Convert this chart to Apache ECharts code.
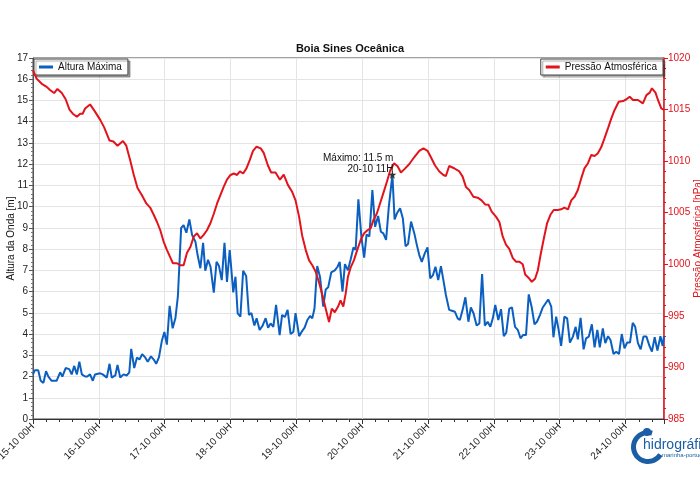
<!DOCTYPE html>
<html>
<head>
<meta charset="utf-8">
<script src="https://cdn.jsdelivr.net/npm/echarts@6/dist/echarts.min.js"></script>
<style>html,body{margin:0;padding:0;background:#fff;}#c{width:700px;height:500px;}</style>
</head>
<body>
<div id="c"></div>
<script>
const chartTitle = 'Boia Sines Oceânica';
const waveName = 'Altura Máxima';
const pressName = 'Pressão Atmosférica';
const xTickLabels = ['15-10 00H','16-10 00H','17-10 00H','18-10 00H','19-10 00H','20-10 00H','21-10 00H','22-10 00H','23-10 00H','24-10 00H'];
const peakHour = 131;
const peakValue = 11.5;
const peakLabel = '20-10 11H';

// [hours since 15-10 00H, max wave height m]
const waveData = [
[0,2.1],[0.7,2.3],[1.9,2.3],[2.8,1.8],[3.8,1.7],[4.75,2.25],[5.6,2.0],[6.8,1.8],[8.6,1.8],[9.9,2.2],[10.7,2.0],[11.9,2.4],[13.2,2.35],[14.1,2.1],[15,2.5],[16,2.1],[16.9,2.7],[17.8,2.1],[19,2.0],[19.8,2.0],[20.8,2.1],[21.8,1.8],[22.6,2.1],[24.5,2.15],[25.4,2.1],[26.9,1.95],[27.9,2.6],[28.7,1.95],[30,2.05],[30.8,2.55],[31.8,1.95],[33,2.1],[34.2,2.05],[35.1,2.2],[35.8,3.3],[36.9,2.4],[37.9,2.9],[38.8,2.8],[39.8,3.05],[40.9,2.9],[41.8,2.7],[43,2.95],[44,2.8],[44.9,2.6],[45.9,2.9],[47,3.7],[47.9,4.1],[48.8,3.5],[49.8,5.33],[50.9,4.27],[51.9,4.74],[52.8,5.76],[54,9.0],[54.9,9.13],[55.9,8.77],[57,9.4],[58,8.66],[59.2,8.35],[60,7.72],[61,7.1],[62,8.3],[62.8,6.98],[63.8,7.5],[64.7,7.17],[65.9,5.95],[66.9,7.4],[67.8,7.2],[68.8,6.54],[69.8,8.3],[70.7,6.46],[71.7,7.96],
[73,5.96],[73.8,6.7],[74.6,4.97],[75.6,4.82],[76.6,6.98],[77.7,6.73],[78.7,4.9],[79.6,4.99],[80.7,4.4],[81.5,4.74],[82.6,4.19],[83.7,4.4],[84.8,4.75],[85.7,4.3],[86.6,4.5],[87.6,4.34],[88.6,5.37],[89.9,3.95],[90.8,4.9],[91.8,4.8],[92.8,5.14],[93.9,4.0],[94.9,4.1],[95.7,4.99],[97,3.9],[97.9,4.1],[99,4.3],[100,4.66],[101,4.85],[101.8,4.74],[102.6,5.2],[103.6,7.2],[104.6,6.7],[105.8,5.29],[106.7,6.1],[107.6,6.2],[108.7,6.9],[110,7.0],[111,7.17],[111.8,7.4],[112.8,6.0],[113.7,7.29],[114.8,7.0],[115.8,7.52],[116.8,8.08],[117.6,7.96],[118.6,10.34],[119.7,8.58],[120.7,7.6],[121.6,8.69],[122.6,8.6],[123.7,10.78],[124.7,9.05],[125.8,9.56],[126.8,8.82],[127.7,8.74],[128.7,8.43],[129.7,10.0],[131,11.5],[131.8,9.4],[132.7,9.7],[133.8,9.92],[134.8,9.45],[135.8,8.14],[136.7,8.24],[137.8,9.3],[139,8.74],[139.9,8.2],[140.8,7.72],[141.7,7.4],[142.8,7.8],[143.8,8.08],[144.8,6.62],[145.8,6.78],[146.7,7.17],[147.7,6.54],[148.7,7.2],
[149.7,6.46],[150.5,5.84],[151.7,5.14],[152.7,5.1],[153.8,5.05],[154.8,4.74],[155.6,4.66],[156.6,5.14],[157.6,5.73],[158.7,4.58],[159.6,5.25],[160.6,4.97],[161.7,4.4],[162.7,4.5],[163.7,6.83],[164.7,4.4],[165.7,4.58],[166.7,4.34],[167.6,4.74],[168.5,5.37],[169.6,4.66],[170.6,5.17],[171.6,3.9],[172.5,4.06],[173.6,5.2],[174.6,5.25],[175.7,4.34],[176.7,4.2],[177.7,3.8],[178.6,3.95],[179.7,3.95],[180.7,5.87],[181.8,5.25],[182.8,4.46],[183.7,4.58],[184.8,4.9],[185.8,5.25],[186.8,5.44],[187.8,5.63],[188.9,5.29],[189.7,3.85],[190.7,4.82],[191.5,4.27],[192.5,3.44],[193.7,4.82],[194.7,4.74],[195.7,3.6],[196.8,3.88],[197.8,4.34],[198.6,3.75],[199.6,4.76],[200.7,3.28],[201.6,3.8],[202.6,3.88],[203.7,4.46],[204.7,3.37],[205.7,4.2],[206.6,3.37],[207.7,4.27],[208.6,3.57],[209.6,3.9],[210.5,3.72],[211.6,3.06],[212.6,3.17],[213.6,3.06],[214.6,4.0],[215.6,3.33],[216.6,3.6],[217.6,3.6],[218.6,4.53],[219.5,4.34],[220.5,3.57],[221.5,3.28],[222.5,3.88],[223.6,3.88],[224.7,3.44],[225.6,3.17],[226.6,3.85],[227.6,3.22],[228.7,3.9],[229.5,3.44],[230,3.9]
];

// [hours since 15-10 00H, pressure hPa]
const pressData = [
[0,1018.8],[1.3,1018.0],[3.2,1017.5],[5,1017.2],[6.2,1016.9],[7.7,1016.6],[8.9,1017.0],[10.5,1016.6],[11.9,1016.0],[13.3,1015.0],[14.5,1014.6],[16,1014.3],[17.2,1014.6],[18.1,1014.6],[19,1015.1],[20.8,1015.5],[22.6,1014.8],[24.5,1014.0],[25.9,1013.3],[27.9,1012.0],[29.3,1011.9],[30.8,1011.5],[32.8,1011.95],[34,1011.5],[35.4,1010.1],[36.7,1008.7],[38.1,1007.4],[39.7,1006.7],[41.3,1005.9],[42.7,1005.5],[44,1004.8],[45.2,1004.1],[46.4,1003.3],[47.6,1002.2],[48.8,1001.4],[50,1000.7],[51,1000.1],[52.5,1000.1],[53.7,999.9],[54.9,999.9],[56.1,1001.1],[57.4,1001.7],[58.6,1002.7],[59.8,1003.0],[61,1002.5],[62.2,1002.85],[63.4,1003.3],[64.7,1004.0],[65.9,1004.9],[67.1,1005.9],[68.3,1006.7],[69.5,1007.5],[70.7,1008.2],[72,1008.66],
[73.2,1008.8],[74.4,1008.66],[75.4,1009.0],[76.6,1008.8],[77.8,1009.3],[79,1010.1],[80.2,1011.0],[81.5,1011.4],[83,1011.24],[84.1,1010.8],[85.6,1009.6],[86.8,1008.9],[88.4,1008.9],[90,1008.2],[91.4,1008.7],[92.9,1007.7],[94.5,1007.0],[95.7,1006.2],[97,1004.6],[98.1,1002.8],[99.4,1001.4],[100.6,1000.4],[101.8,999.9],[103,999.3],[104.2,998.3],[105.5,997.0],[106.7,995.7],[107.9,994.4],[108.9,995.7],[110,995.35],[111.2,995.9],[112.1,996.5],[113.1,995.9],[114,997.2],[114.8,998.8],[115.8,999.7],[117,1000.4],[118.2,1001.4],[119.5,1002.4],[120.7,1003.0],[121.9,1003.3],[123.1,1003.5],[124.1,1004.3],[125.3,1004.9],[126.5,1005.9],[127.7,1006.9],[129,1008.0],[130.2,1009.1],[131.6,1009.8],[132.9,1009.5],[134.1,1008.9],[135.3,1009.2],[137.1,1009.7],[139,1010.4],[140.8,1011.0],[142.3,1011.24],[143.8,1011.0],[145,1010.4],[146.5,1009.6],[148.1,1009.0],
[149.6,1008.66],[150.5,1008.56],[151.7,1009.53],[153.5,1009.31],[155.4,1009.0],[156.6,1008.5],[157.8,1007.5],[159,1007.2],[160.5,1006.55],[162.1,1006.46],[163.5,1006.2],[164.8,1005.8],[166,1005.78],[167.2,1005.1],[168.8,1004.6],[170,1004.1],[171.2,1002.7],[172.4,1001.9],[173.6,1001.5],[174.9,1000.6],[176.1,1000.25],[177.3,1000.25],[178.5,1000.0],[179.4,999.0],[180.6,998.7],[181.8,998.3],[183,998.6],[184,999.4],[185,1000.9],[186.2,1002.5],[187.4,1004.0],[188.6,1004.8],[189.8,1005.26],[191.3,1005.26],[192.5,1005.33],[193.7,1005.5],[195,1005.33],[196.2,1006.2],[197.4,1006.55],[198.6,1007.2],[199.8,1008.3],[201,1009.3],[202.3,1009.8],[203.5,1010.6],[204.7,1010.5],[205.9,1010.76],[207.1,1011.34],[208.3,1012.2],[209.6,1013.2],[210.8,1014.15],[212,1014.96],[213.5,1015.76],[215.1,1015.83],[216.3,1016.0],[217.5,1016.25],[218.7,1015.93],[220.5,1015.93],[222.3,1015.6],[223.6,1016.4],[224.8,1016.64],[225.6,1017.06],[226.9,1016.64],[227.8,1015.93],[229,1015.12],[230,1014.96]
];

const BLUE = '#0b5fc1';
const RED = '#e3131b';
const FONT = 'Liberation Sans';
const starPath = 'path://M0,-10 L2.35,-3.24 L9.51,-3.09 L3.8,1.24 L5.88,8.09 L0,4 L-5.88,8.09 L-3.8,1.24 L-9.51,-3.09 L-2.35,-3.24 Z';

const chart = echarts.init(document.getElementById('c'), null, {renderer: 'canvas'});
chart.setOption({
  animation: false,
  backgroundColor: '#fff',
  textStyle: {fontFamily: FONT},
  title: {
    text: chartTitle, left: 'center', top: 38,
    textStyle: {fontSize: 11, fontWeight: 'bold', color: '#111', fontFamily: FONT}
  },
  grid: {left: 33, right: 36, top: 58, bottom: 81, containLabel: false, outerBoundsMode: 'none',
         show: true, borderColor: '#444', borderWidth: 1, backgroundColor: 'transparent'},
  legend: [
    {data: [waveName], left: 34, top: 59, orient: 'horizontal', padding: [3, 6, 3, 5],
     icon: 'rect', itemWidth: 14, itemHeight: 3, itemGap: 5,
     backgroundColor: '#fff', borderColor: '#444', borderWidth: 1,
     shadowColor: 'rgba(0,0,0,0.35)', shadowOffsetX: 2, shadowOffsetY: 2, shadowBlur: 1,
     textStyle: {fontSize: 10, color: '#111', fontFamily: FONT}},
    {data: [pressName], right: 37, top: 59, orient: 'horizontal', padding: [3, 6, 3, 5],
     icon: 'rect', itemWidth: 14, itemHeight: 3, itemGap: 5,
     backgroundColor: '#fff', borderColor: '#444', borderWidth: 1,
     shadowColor: 'rgba(0,0,0,0.35)', shadowOffsetX: 2, shadowOffsetY: 2, shadowBlur: 1,
     textStyle: {fontSize: 10, color: '#111', fontFamily: FONT}}
  ],
  xAxis: {
    type: 'value', min: 0, max: 230, interval: 24,
    axisLine: {show: true, lineStyle: {color: '#333', width: 1}},
    axisTick: {show: true, length: 5, lineStyle: {color: '#333'}},
    minorTick: {show: true, splitNumber: 5, length: 3, lineStyle: {color: '#333'}},
    axisLabel: {
      rotate: 45, fontSize: 10, color: '#222', margin: 6, fontFamily: FONT,
      formatter: function (v) { return (v % 24 === 0) ? (xTickLabels[v / 24] || '') : ''; }
    },
    splitLine: {show: true, lineStyle: {color: '#e4e4e4', width: 1}}
  },
  yAxis: [
    {
      type: 'value', min: 0, max: 17, interval: 1, position: 'left',
      name: 'Altura da Onda [m]', nameLocation: 'middle', nameGap: 17, nameMoveOverlap: false,
      nameTextStyle: {fontSize: 10, color: '#111', fontFamily: FONT},
      axisLine: {show: true, lineStyle: {color: '#555', width: 1}},
      axisTick: {show: true, length: 4, lineStyle: {color: '#555'}},
      minorTick: {show: true, splitNumber: 5, length: 2, lineStyle: {color: '#777'}},
      axisLabel: {fontSize: 10, color: '#222', margin: 5, fontFamily: FONT},
      splitLine: {show: true, lineStyle: {color: '#e4e4e4', width: 1}}
    },
    {
      type: 'value', min: 985, max: 1020, interval: 5, position: 'right',
      name: 'Pressão Atmosférica [hPa]', nameLocation: 'middle', nameGap: 29, nameMoveOverlap: false,
      nameTextStyle: {fontSize: 10, color: RED, fontFamily: FONT},
      axisLine: {show: true, lineStyle: {color: RED, width: 1.5}},
      axisTick: {show: true, length: 4, lineStyle: {color: RED}},
      minorTick: {show: true, splitNumber: 5, length: 2, lineStyle: {color: RED}},
      axisLabel: {fontSize: 10, color: RED, margin: 4, fontFamily: FONT,
                  formatter: function (v) { return String(v); }},
      splitLine: {show: false}
    }
  ],
  series: [
    {
      name: waveName, type: 'line', yAxisIndex: 0, data: waveData,
      showSymbol: false, symbol: 'none', z: 3,
      lineStyle: {color: BLUE, width: 2}, itemStyle: {color: BLUE},
      markPoint: {
        symbol: starPath, symbolSize: 8,
        itemStyle: {color: '#333'},
        label: {
          show: true, position: [5, 4], align: 'right', verticalAlign: 'bottom',
          fontSize: 10, lineHeight: 11, color: '#111', fontFamily: FONT,
          formatter: function () { return 'Máximo: ' + peakValue + ' m\n' + peakLabel; }
        },
        data: [{coord: [peakHour, peakValue]}]
      }
    },
    {
      name: pressName, type: 'line', yAxisIndex: 1, data: pressData,
      showSymbol: false, symbol: 'none', z: 4,
      lineStyle: {color: RED, width: 2}, itemStyle: {color: RED}
    }
  ],
  graphic: [
    {type: 'sector', shape: {cx: 648, cy: 447, r: 17, r0: 12, startAngle: 0.55, endAngle: 5.0, clockwise: true},
     style: {fill: '#1b5ea6'}, z: 10},
    {type: 'circle', shape: {cx: 647, cy: 432, r: 4}, style: {fill: '#1b5ea6'}, z: 10},
    {type: 'text', left: 643, top: 438, style: {text: 'hidrográfico', fill: '#1b5ea6', font: '14px "Liberation Sans"'}, z: 11},
    {type: 'text', left: 662, top: 452, style: {text: 'marinha-portugal', fill: '#1b5ea6', font: '6px "Liberation Sans"'}, z: 11}
  ]
});
</script>
</body>
</html>
